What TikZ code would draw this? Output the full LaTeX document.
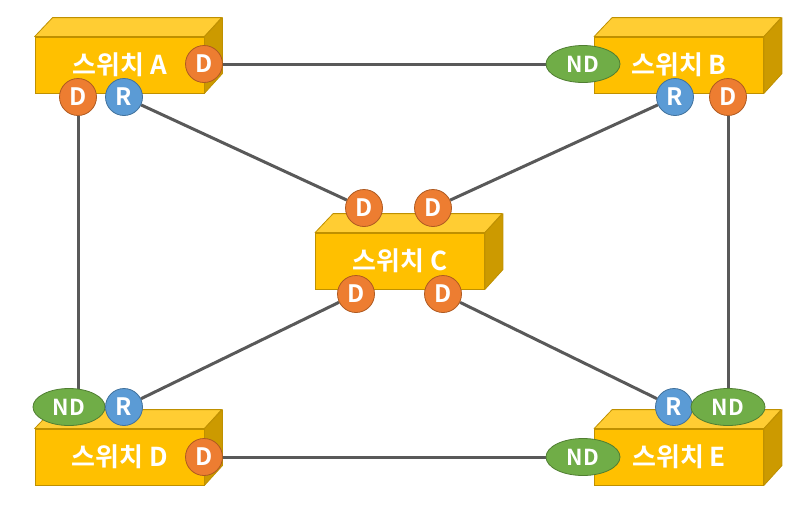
\documentclass[tikz,border=0pt]{standalone}
\usepackage{fontspec}
\setmainfont{Noto Sans CJK KR}[BoldFont={Noto Sans CJK KR Bold}]
\usetikzlibrary{backgrounds,shapes.geometric}
\definecolor{swfront}{HTML}{FFC000}
\definecolor{swtop}{HTML}{FFCD33}
\definecolor{swside}{HTML}{CC9A00}
\definecolor{swedge}{HTML}{BF9000}
\definecolor{dfill}{HTML}{ED7D31}
\definecolor{dedge}{HTML}{AE5A21}
\definecolor{rfill}{HTML}{5B9BD5}
\definecolor{redge}{HTML}{41719C}
\definecolor{nfill}{HTML}{70AD47}
\definecolor{nedge}{HTML}{507E32}
\definecolor{linkgray}{HTML}{595959}
\newcommand\swbox[4]{%
  \node[front] (#1) at (#2,#3) {#4};
  \filldraw[fill=swtop, draw=swedge, line width=0.8pt, line join=round]
    (#1.north west) -- ++(18,-19) -- ++(169,0) -- (#1.north east) -- cycle;
  \filldraw[fill=swside, draw=swedge, line width=0.8pt, line join=round]
    (#1.north east) -- ++(18,-19) -- ++(0,56) -- (#1.south east) -- cycle;
}
\begin{document}
\begin{tikzpicture}[x=1pt,y=-1pt,
  front/.style={rectangle, fill=swfront, draw=swedge, line width=0.8pt,
    minimum width=169pt, minimum height=56pt, inner sep=0pt,
    font=\bfseries\fontsize{26}{26}\selectfont, text=white},
  port/.style={circle, minimum size=37pt, inner sep=0pt, line width=0.8pt,
    font=\bfseries\fontsize{24}{24}\selectfont, text=white},
  dport/.style={port, fill=dfill, draw=dedge},
  rport/.style={port, fill=rfill, draw=redge},
  ndport/.style={ellipse, minimum width=74pt, minimum height=37pt, inner sep=0pt,
    line width=0.8pt, fill=nfill, draw=nedge,
    font=\bfseries\fontsize{22}{22}\selectfont, text=white},
  link/.style={draw=linkgray, line width=3pt}]
\useasboundingbox (0,0) rectangle (810,504);

\swbox{swA}{119.5}{65}{스위치 A}
\swbox{swB}{679}{65}{스위치 B}
\swbox{swC}{400}{261}{스위치 C}
\swbox{swD}{119.5}{457}{스위치 D}
\swbox{swE}{679}{457}{스위치 E}

% ports of A
\node[dport] (aD1) at (204,64) {D};
\node[dport] (aD2) at (78,97) {D};
\node[rport] (aR) at (124,97) {R};
% ports of B
\node[ndport] (bND) at (583,64) {ND};
\node[rport] (bR) at (675,97) {R};
\node[dport] (bD) at (728,97) {D};
% ports of C
\node[dport] (cD1) at (364,208) {D};
\node[dport] (cD2) at (433,208) {D};
\node[dport] (cD3) at (356,294) {D};
\node[dport] (cD4) at (443,294) {D};
% ports of D
\node[ndport, minimum width=72pt] (dND) at (69,407) {ND};
\node[rport] (dR) at (124,407) {R};
\node[dport] (dD) at (204,457) {D};
% ports of E
\node[rport] (eR) at (674,407) {R};
\node[ndport] (eND1) at (728,407) {ND};
\node[ndport] (eND2) at (583,457) {ND};

\begin{scope}[on background layer]
  \draw[link] (aD1) -- (bND);
  \draw[link] (aR) -- (cD1);
  \draw[link] (bR) -- (cD2);
  \draw[link] (aD2) -- (aD2 |- dND);
  \draw[link] (bD) -- (eND1);
  \draw[link] (cD3) -- (dR);
  \draw[link] (cD4) -- (eR);
  \draw[link] (dD) -- (eND2);
\end{scope}
\end{tikzpicture}
\end{document}
